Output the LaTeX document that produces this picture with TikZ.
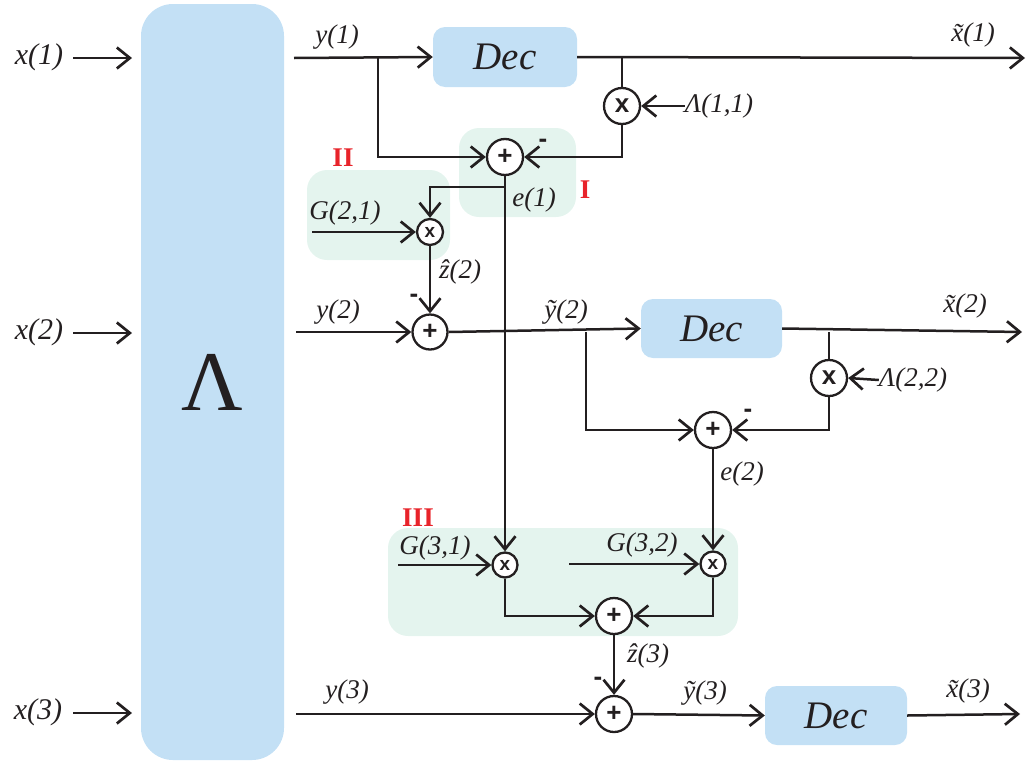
\documentclass[tikz,border=0pt]{standalone}
\usepackage{fontspec}
\setmainfont{Liberation Serif}
\setsansfont{Liberation Sans}
\usetikzlibrary{arrows.meta}
\definecolor{boxblue}{HTML}{C3E0F5}
\definecolor{grpgreen}{HTML}{E4F4EE}
\definecolor{redlab}{HTML}{E8232A}
\definecolor{ink}{HTML}{231F20}
\begin{document}
\begin{tikzpicture}[x=1pt,y=-1pt,
  ln/.style={draw=ink, line width=2.5pt},
  arr/.style={ln, -{Straight Barb[length=13pt,width=21pt,line width=2.7pt]}},
  lbl/.style={font=\fontsize{27}{30}\selectfont\itshape, inner sep=0pt, text=ink},
  inl/.style={font=\fontsize{30}{32}\selectfont\itshape, inner sep=0pt, text=ink},
  decbox/.style={fill=boxblue, rounded corners=12pt, inner sep=0pt, text=ink,
    font=\fontsize{39}{40}\selectfont\itshape},
  opc/.style={circle, draw=ink, fill=white, line width=2.3pt, minimum size=36pt, inner sep=0pt,
    text=ink, font=\sffamily\bfseries\fontsize{26}{26}\selectfont},
  sopc/.style={opc, minimum size=26pt, font=\sffamily\bfseries\fontsize{19}{19}\selectfont},
  roman/.style={text=redlab, inner sep=0pt, font=\bfseries\fontsize{27}{27}\selectfont},
  minus/.style={inner sep=0pt, text=ink, font=\sffamily\bfseries\fontsize{26}{26}\selectfont}]
\useasboundingbox (0,0) rectangle (1027,763);

% background shapes
\node[fill=boxblue, rounded corners=32pt, minimum width=143pt, minimum height=756pt] (lam) at (212.5,382) {};
\node[inner sep=0pt, text=ink, font=\fontsize{85}{85}\selectfont] (lamsym) at (212,382) {Λ};
\fill[grpgreen, rounded corners=20pt] (459,128) rectangle (576,217);
\fill[grpgreen, rounded corners=20pt] (307,170) rectangle (450,260);
\fill[grpgreen, rounded corners=20pt] (388,528) rectangle (738,636);
\node[roman] (rI) at (585,190) {I};
\node[roman] (rII) at (343,158) {II};
\node[roman] (rIII) at (418,518) {III};

% blocks
\node[decbox, minimum width=144pt, minimum height=60pt] (dec1) at (505,57) {Dec};
\node[decbox, minimum width=141pt, minimum height=59pt] (dec2) at (711.5,328.5) {Dec};
\node[decbox, minimum width=142pt, minimum height=59pt] (dec3) at (836,715.5) {Dec};

\node[opc] (m11) at (622,106) {x};
\node[opc] (p1) at (505,157) {+};
\node[sopc] (m21) at (430,232) {x};
\node[opc, minimum size=35pt] (p2) at (430,332) {+};
\node[opc] (m22) at (829,378) {x};
\node[opc] (pe2) at (713,430) {+};
\node[sopc, minimum size=25pt] (m31) at (505,565) {x};
\node[sopc, minimum size=25pt] (m32) at (713,564) {x};
\node[opc] (p3) at (614,616) {+};
\node[opc] (p4) at (614,714) {+};

% inputs
\node[inl] (x1) at (39,57) {x(1)};
\node[inl] (x2) at (39,332) {x(2)};
\node[inl] (x3) at (38,712) {x(3)};
\coordinate (x1s) at (73,58);
\coordinate (x2s) at (73,333);
\coordinate (x3s) at (73,713);
\coordinate (x1e) at (132,58);
\coordinate (x2e) at (132,333);
\coordinate (x3e) at (132,713);
\draw[arr] (x1s) -- (x1e);
\draw[arr] (x2s) -- (x2e);
\draw[arr] (x3s) -- (x3e);

% labels
\node[lbl] (ly1) at (337,37) {y(1)};
\node[lbl] (lx1) at (973,35) {\~{x}(1)};
\node[lbl] (l11) at (719,106) {Λ(1,1)};
\node[lbl] (le1) at (534,200) {e(1)};
\node[lbl] (lg21) at (345,213) {G(2,1)};
\node[lbl] (lz2) at (460,272) {\^{z}(2)};
\node[lbl] (ly2) at (338,312) {y(2)};
\node[lbl] (lyt2) at (566,312) {\~{y}(2)};
\node[lbl] (lx2) at (965,306) {\~{x}(2)};
\node[lbl] (l22) at (913,380) {Λ(2,2)};
\node[lbl] (le2) at (742,474) {e(2)};
\node[lbl] (lg31) at (435,548) {G(3,1)};
\node[lbl] (lg32) at (642,545) {G(3,2)};
\node[lbl] (lz3) at (648,656) {\^{z}(3)};
\node[lbl] (ly3) at (347,692) {y(3)};
\node[lbl] (lyt3) at (705,693) {\~{y}(3)};
\node[lbl] (lx3) at (968,691) {\~{x}(3)};

\node[minus] (mn1) at (543,143) {-};
\node[minus] (mn2) at (414,298) {-};
\node[minus] (mn3) at (748,413) {-};
\node[minus] (mn4) at (598,681) {-};

% coordinates
\coordinate (y1s) at (294,58);
\coordinate (b1) at (378,58);
\coordinate (b1d) at (378,157);
\coordinate (o1) at (1025,58);
\coordinate (b11) at (622,58);
\coordinate (c11) at (622,157);
\coordinate (b21) at (505,187);
\coordinate (b21l) at (430,187);
\coordinate (g21s) at (312,232);
\coordinate (y2s) at (296,332);
\coordinate (b2) at (586,332);
\coordinate (b2d) at (586,430);
\coordinate (o2) at (1022,332);
\coordinate (b22) at (829,332);
\coordinate (c22) at (829,430);
\coordinate (g31s) at (398,565);
\coordinate (g32s) at (569,564);
\coordinate (c31) at (505,616);
\coordinate (c32) at (713,616);
\coordinate (y3s) at (296,714);
\coordinate (o3) at (1020,714);

% connectors row 1
\draw[arr] (y1s) -- (dec1.west);
\draw[arr] (b1) -- (b1d) -- (p1.west);
\draw[arr] (dec1.east) -- (o1);
\draw[ln] (b11) -- (m11.north);
\draw[arr] (l11.west) -- (m11.east);
\draw[arr] (m11.south) -- (c11) -- (p1.east);
\draw[arr] (p1.south) -- (m31.north);
\draw[arr] (b21) -- (b21l) -- (m21.north);
\draw[arr] (g21s) -- (m21.west);
\draw[arr] (m21.south) -- (p2.north);

% row 2
\draw[arr] (y2s) -- (p2.west);
\draw[arr] (p2.east) -- (dec2.west);
\draw[arr] (b2) -- (b2d) -- (pe2.west);
\draw[arr] (dec2.east) -- (o2);
\draw[ln] (b22) -- (m22.north);
\draw[arr] (l22.west) -- (m22.east);
\draw[arr] (m22.south) -- (c22) -- (pe2.east);
\draw[arr] (pe2.south) -- (m32.north);

% row 3
\draw[arr] (g31s) -- (m31.west);
\draw[arr] (g32s) -- (m32.west);
\draw[arr] (m31.south) -- (c31) -- (p3.west);
\draw[arr] (m32.south) -- (c32) -- (p3.east);
\draw[arr] (p3.south) -- (p4.north);
\draw[arr] (y3s) -- (p4.west);
\draw[arr] (p4.east) -- (dec3.west);
\draw[arr] (dec3.east) -- (o3);
\end{tikzpicture}
\end{document}
